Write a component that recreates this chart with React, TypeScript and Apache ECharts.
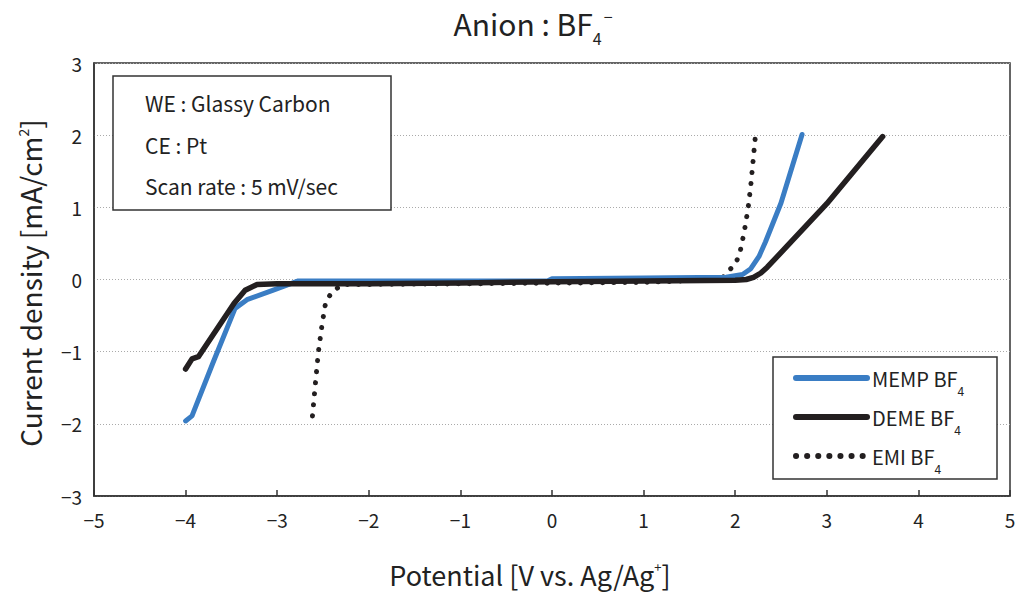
import React, { useEffect, useRef } from "react";
import * as echarts from "echarts";

const FONT = "'Noto Sans CJK JP', 'Noto Sans', sans-serif";

const xTicks = [-5, -4, -3, -2, -1, 0, 1, 2, 3, 4, 5];
const yTicks = [-3, -2, -1, 0, 1, 2, 3];

const mempX = [-4.0, -3.93, -3.7, -3.46, -3.33, -3.05, -2.77, -2.0, -1.0, -0.05, 0.0, 1.0, 1.9, 2.08, 2.17, 2.26, 2.33, 2.5, 2.73];
const mempY = [-1.96, -1.89, -1.15, -0.4, -0.28, -0.15, -0.02, -0.02, -0.02, -0.02, 0.01, 0.02, 0.03, 0.07, 0.15, 0.32, 0.52, 1.06, 2.01];

const demeX = [-4.0, -3.93, -3.86, -3.47, -3.35, -3.22, -3.0, -2.0, -1.0, 0.0, 1.0, 2.0, 2.12, 2.2, 2.28, 2.35, 3.0, 3.61];
const demeY = [-1.24, -1.1, -1.07, -0.33, -0.15, -0.07, -0.06, -0.06, -0.05, -0.03, -0.02, -0.01, 0.0, 0.03, 0.09, 0.17, 1.05, 1.98];

const emiX = [-2.615, -2.58, -2.55, -2.51, -2.47, -2.4, -2.29, -1.0, 0.0, 1.0, 1.85, 1.91, 2.0, 2.05, 2.1, 2.14, 2.17, 2.22];
const emiY = [-1.89, -1.4, -1.0, -0.62, -0.31, -0.17, -0.07, -0.06, -0.05, -0.04, 0.0, 0.1, 0.21, 0.36, 0.67, 0.98, 1.3, 1.98];

const seriesNames = ["MEMP BF4", "DEME BF4", "EMI BF4"];
const infoLines = ["WE : Glassy Carbon", "CE : Pt", "Scan rate : 5 mV/sec"];

const zip = (xs: number[], ys: number[]) => xs.map((x, i) => [x, ys[i]]);
const fmtNum = (v: number) => String(v).replace("-", "\u2212");

export default function App() {
  const ref = useRef<HTMLDivElement>(null);
  useEffect(() => {
    if (!ref.current) return;
    const chart = echarts.init(ref.current, undefined, { renderer: "svg" });
    const legendRich = {
      a: { fontSize: 20, fontFamily: FONT, color: "#222", lineHeight: 38, verticalAlign: "middle" },
      s: { fontSize: 12, fontFamily: FONT, color: "#222", lineHeight: 13, verticalAlign: "bottom" },
    };
    chart.setOption({
      animation: false,
      backgroundColor: "#fff",
      grid: { left: 94, top: 63, right: 9, bottom: 96, show: true, borderColor: "#333", borderWidth: 1.5, backgroundColor: "transparent" },
      xAxis: {
        type: "value",
        min: xTicks[0],
        max: xTicks[xTicks.length - 1],
        interval: 1,
        axisLine: { show: true, onZero: false, lineStyle: { color: "#333", width: 1.5 } },
        axisTick: { show: true, inside: true, length: 6, lineStyle: { color: "#333", width: 1.5 } },
        axisLabel: { fontSize: 19, color: "#222", fontFamily: FONT, margin: 14, formatter: (v: number) => fmtNum(v) },
        splitLine: { show: false },
      },
      yAxis: {
        type: "value",
        min: yTicks[0],
        max: yTicks[yTicks.length - 1],
        interval: 1,
        axisLine: { show: true, onZero: false, lineStyle: { color: "#333", width: 1.5 } },
        axisTick: { show: false },
        axisLabel: { fontSize: 19, color: "#222", fontFamily: FONT, margin: 12, formatter: (v: number) => fmtNum(v) },
        splitLine: { show: true, lineStyle: { color: "#aaa", width: 1, type: [1, 2] } },
      },
      legend: {
        orient: "vertical",
        left: 793,
        top: 368,
        padding: 0,
        itemGap: 10,
        itemWidth: 71,
        itemHeight: 14,
        z: 10,
        data: seriesNames,
        formatter: (name: string) => `{a|${name.slice(0, -1)}}{s|${name.slice(-1)}}`,
        textStyle: { fontFamily: FONT, fontSize: 20, color: "#222", rich: legendRich },
        lineStyle: { width: 6 },
        itemStyle: { opacity: 0, borderWidth: 0 },
      },
      graphic: [
        { type: "rect", z: 5, shape: { x: 113, y: 76, width: 278, height: 134 }, style: { fill: "#fff", stroke: "#333", lineWidth: 1.5 } },
        ...infoLines.map((t, i) => ({
          type: "text", z: 6, x: 145, y: 103 + i * 41.5,
          style: { text: t, fontSize: 21, fontFamily: FONT, fill: "#222", verticalAlign: "middle", align: "left" },
        })),
        { type: "rect", z: 5, shape: { x: 773, y: 357, width: 224, height: 122 }, style: { fill: "#fff", stroke: "#333", lineWidth: 1.5 } },
        {
          type: "text", z: 6, x: 533, y: 23,
          style: {
            text: "{a|Anion : BF}{s|4}{p|\u2212}", align: "center", verticalAlign: "middle", fill: "#222",
            rich: {
              a: { fontSize: 30, fontFamily: FONT, fill: "#222", lineHeight: 40, verticalAlign: "middle" },
              s: { fontSize: 16, fontFamily: FONT, fill: "#222", lineHeight: 18, verticalAlign: "middle", padding: [30, 0, 0, 0] },
              p: { fontSize: 16, fontFamily: FONT, fill: "#222", lineHeight: 18, verticalAlign: "middle", padding: [0, 0, 14, 2] },
            },
          },
        },
        {
          type: "text", z: 6, x: 530, y: 574,
          style: {
            text: "{a|Potential [V vs. Ag/Ag}{p|+}{a|]}", align: "center", verticalAlign: "middle", fill: "#222",
            rich: {
              a: { fontSize: 27, fontFamily: FONT, fill: "#222", lineHeight: 40, verticalAlign: "middle" },
              p: { fontSize: 13, fontFamily: FONT, fill: "#222", lineHeight: 16, verticalAlign: "middle", padding: [0, 0, 16, 0] },
            },
          },
        },
        {
          type: "text", z: 6, x: 30, y: 283, rotation: Math.PI / 2,
          style: {
            text: "{a|Current density [mA/cm}{p|2}{a|]}", align: "center", verticalAlign: "middle", fill: "#222",
            rich: {
              a: { fontSize: 28, fontFamily: FONT, fill: "#222", lineHeight: 40, verticalAlign: "middle" },
              p: { fontSize: 14, fontFamily: FONT, fill: "#222", lineHeight: 16, verticalAlign: "middle", padding: [0, 0, 14, 0] },
            },
          },
        },
      ],
      series: [
        {
          name: seriesNames[0], type: "line", data: zip(mempX, mempY), symbol: "none", z: 3,
          lineStyle: { color: "#3a7dc4", width: 5, cap: "round", join: "round" },
          itemStyle: { color: "#3a7dc4" },
        },
        {
          name: seriesNames[1], type: "line", data: zip(demeX, demeY), symbol: "none", z: 4,
          lineStyle: { color: "#231f20", width: 5.5, cap: "round", join: "round" },
          itemStyle: { color: "#231f20" },
        },
        {
          name: seriesNames[2], type: "line", data: zip(emiX, emiY), symbol: "none", z: 2,
          lineStyle: { color: "#231f20", width: 5, type: [0.1, 11], cap: "round", join: "round" },
          itemStyle: { color: "#231f20" },
        },
      ],
    });
    return () => chart.dispose();
  }, []);
  return <div ref={ref} style={{ position: "absolute", left: 0, top: 0, width: 1019, height: 592 }} />;
}
